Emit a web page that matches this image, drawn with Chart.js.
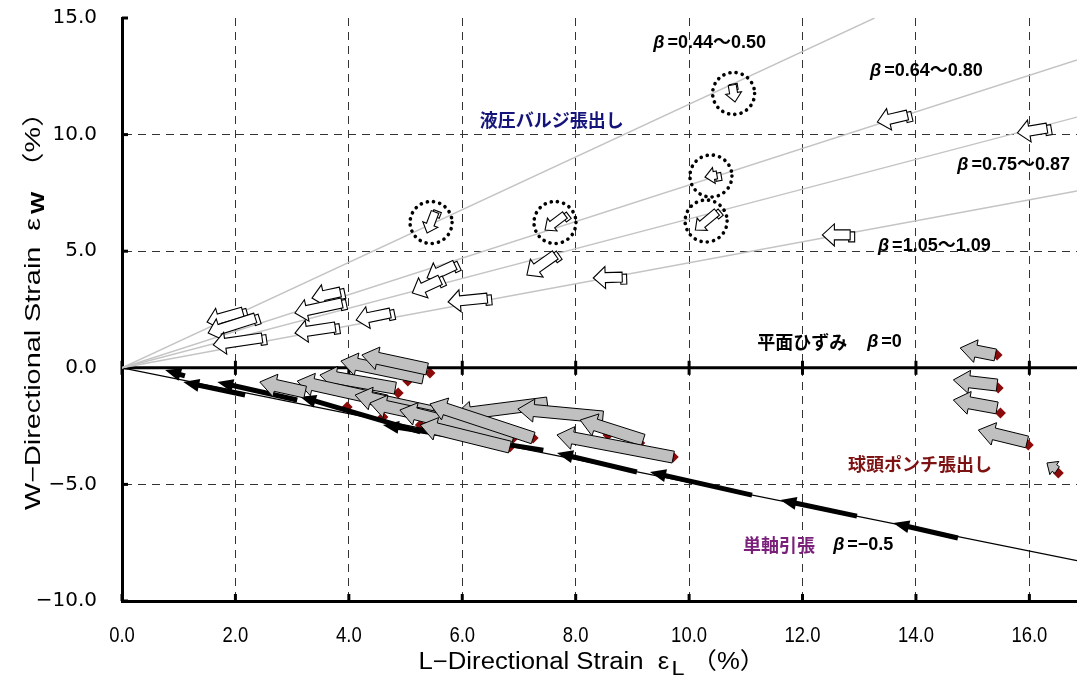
<!DOCTYPE html>
<html>
<head>
<meta charset="utf-8">
<script src="https://cdn.jsdelivr.net/npm/chart.js@4/dist/chart.umd.min.js"></script>
<style>
  html, body { margin: 0; padding: 0; background: #fff; }
  #wrap { width: 1077px; height: 679px; }
  canvas { display: block; }
</style>
</head>
<body>
<div id="wrap"><canvas id="c" width="1077" height="679"></canvas></div>
<script>
// ---------------- values (strain in %) ----------------
const xTickValues = [0, 2, 4, 6, 8, 10, 12, 14, 16];
const xTickLabels = ['0.0', '2.0', '4.0', '6.0', '8.0', '10.0', '12.0', '14.0', '16.0'];
const yTickValues = [-10, -5, 0, 5, 10, 15];
const yTickLabels = ['\u221210.0', '\u22125.0', '0.0', '5.0', '10.0', '15.0'];

// strain-path guide lines from the origin, [εL, εW]
const guideA = [[0, 0], [13.27, 15.0]];
const guideB = [[0, 0], [16.84, 13.2]];
const guideC = [[0, 0], [16.84, 10.75]];
const guideD = [[0, 0], [16.84, 7.58]];
const uniaxialLine = [[0, 0], [16.84, -8.27]];
const planeLine = [[0, 0], [16.84, 0]];

// hydraulic bulge: strain increments, [εL tail, εW tail, εL head, εW head]
const bulgeArrows = [
  [2.13, 2.39, 1.50, 1.96],
  [2.35, 2.14, 1.52, 1.49],
  [2.47, 1.28, 1.61, 0.98],
  [3.85, 3.25, 3.35, 2.99],
  [3.88, 2.78, 3.05, 2.35],
  [3.76, 1.75, 3.05, 1.49],
  [4.73, 2.35, 4.13, 2.05],
  [5.87, 4.41, 5.38, 3.85],
  [5.61, 3.77, 5.12, 3.21],
  [6.44, 2.99, 5.75, 2.82],
  [7.64, 4.84, 7.14, 3.98],
  [8.82, 3.89, 8.31, 3.85],
  [13.85, 10.84, 13.32, 10.54],
  [16.31, 10.28, 15.79, 10.07],
  [12.84, 5.70, 12.35, 5.70]
];
// bulge increments marked with a dotted ring
const bulgeArrowsRinged = [
  [5.52, 6.68, 5.38, 5.78],
  [7.81, 6.55, 7.46, 5.91],
  [10.49, 6.68, 10.11, 5.91],
  [10.49, 8.27, 10.28, 8.18],
  [10.76, 12.13, 10.81, 11.40]
];

// ball-head punch stretching: strain increments
const punchArrows = [
  [5.31, -0.44, 3.86, 0.29],
  [5.38, -0.05, 4.23, 0.55],
  [4.82, -0.87, 3.49, -0.31],
  [4.66, -1.42, 3.09, -0.57],
  [3.23, -1.04, 2.43, -0.61],
  [5.49, -1.90, 4.11, -1.17],
  [6.14, -2.45, 4.37, -1.51],
  [7.50, -1.51, 5.87, -2.02],
  [6.90, -3.01, 4.90, -1.81],
  [7.25, -3.01, 5.43, -1.55],
  [6.84, -3.40, 5.26, -2.45],
  [8.48, -2.11, 6.98, -1.77],
  [9.19, -3.10, 8.08, -2.24],
  [9.72, -3.83, 7.67, -2.88],
  [15.40, 0.55, 14.78, 0.85],
  [15.43, -0.74, 14.66, -0.52],
  [15.43, -1.72, 14.66, -1.38],
  [15.96, -3.18, 15.10, -2.67],
  [16.49, -4.38, 16.31, -4.08]
];
// ball-head punch stretching: measured end strains
const punchPointsL = [5.43, 5.04, 4.87, 4.73, 5.26, 6.90, 7.25, 6.84, 8.57, 9.13, 9.72, 3.97, 4.60, 15.43, 15.45, 15.49, 15.98, 16.51];
const punchPointsW = [-0.22, -0.57, -1.08, -1.60, -2.45, -3.01, -3.01, -3.40, -2.88, -3.23, -3.83, -1.68, -2.11, 0.55, -0.87, -1.94, -3.31, -4.51];

// uniaxial tension: strain increments
const tensionArrows = [
  [1.11, -0.35, 0.76, -0.09],
  [2.17, -1.17, 1.08, -0.61],
  [3.09, -1.38, 1.68, -0.61],
  [5.26, -2.75, 3.14, -1.24],
  [7.43, -3.53, 4.60, -2.45],
  [9.08, -4.47, 7.67, -3.65],
  [11.11, -5.46, 9.31, -4.47],
  [12.96, -6.36, 11.61, -5.67],
  [14.74, -7.30, 13.60, -6.66]
];

// ---------------- text ----------------
const betaRanges = ['0.44\uFF5E0.50', '0.64\uFF5E0.80', '0.75\uFF5E0.87', '1.05\uFF5E1.09'];
const regionNames = { bulge: '液圧バルジ張出し', punch: '球頭ポンチ張出し', tension: '単軸引張', plane: '平面ひずみ' };
const tensionBeta = '\u22120.5';
const planeBeta = '0';
const xTitle = ['L\u2212Directional Strain  \u03B5', 'L', '\uFF08%\uFF09'];
const yTitle = ['W\u2212Directional Strain  \u03B5', 'W', '\uFF08%\uFF09'];

// label anchors in axis units (left edge, vertical middle)
const labelAt = {
  betaRanges: [[9.37, 13.93], [13.19, 12.73], [14.73, 8.70], [13.33, 5.22]],
  bulge: [6.31, 10.63],
  punch: [12.80, -4.14],
  tension: [10.95, -7.60],
  tensionBeta: [12.54, -7.60],
  plane: [11.20, 1.11],
  planeBeta: [13.14, 1.11]
};

const toPts = a => a.map(([x, y]) => ({ x, y }));

// ---------------- drawing helpers ----------------
function arrowPath(ctx, tx, ty, hx, hy, w, hw, hl) {
  const dx = hx - tx, dy = hy - ty;
  const L = Math.hypot(dx, dy) || 1;
  const ux = dx / L, uy = dy / L, nx = -uy, ny = ux;
  const h = Math.min(hl, L * 0.85);
  const bx = hx - ux * h, by = hy - uy * h;
  ctx.beginPath();
  ctx.moveTo(tx + nx * w / 2, ty + ny * w / 2);
  ctx.lineTo(bx + nx * w / 2, by + ny * w / 2);
  ctx.lineTo(bx + nx * hw / 2, by + ny * hw / 2);
  ctx.lineTo(hx, hy);
  ctx.lineTo(bx - nx * hw / 2, by - ny * hw / 2);
  ctx.lineTo(bx - nx * w / 2, by - ny * w / 2);
  ctx.lineTo(tx - nx * w / 2, ty - ny * w / 2);
  ctx.closePath();
}

function tailBox(ctx, tx, ty, hx, hy, w) {
  const dx = hx - tx, dy = hy - ty;
  const L = Math.hypot(dx, dy) || 1;
  const ux = dx / L, uy = dy / L, nx = -uy, ny = ux;
  const ox = 1.5, oy = 2;
  const p = [
    [tx + nx * w / 2 + ux * 3, ty + ny * w / 2 + uy * 3],
    [tx + nx * w / 2 - ux * 3, ty + ny * w / 2 - uy * 3],
    [tx - nx * w / 2 - ux * 3, ty - ny * w / 2 - uy * 3],
    [tx - nx * w / 2 + ux * 3, ty - ny * w / 2 + uy * 3]
  ];
  ctx.beginPath();
  p.forEach(([x, y], i) => i ? ctx.lineTo(x + ox, y + oy) : ctx.moveTo(x + ox, y + oy));
  ctx.closePath();
  ctx.fill();
  ctx.stroke();
}

function drawRuns(ctx, x, y, runs) {
  ctx.textBaseline = 'middle';
  ctx.textAlign = 'left';
  for (const r of runs) {
    ctx.font = r.font;
    ctx.fillStyle = r.color || '#000';
    ctx.fillText(r.text, x, y + (r.dy || 0));
    x += ctx.measureText(r.text).width + (r.gap || 0);
  }
  return x;
}
function runsWidth(ctx, runs) {
  let w = 0;
  for (const r of runs) { ctx.font = r.font; w += ctx.measureText(r.text).width + (r.gap || 0); }
  return w;
}
// text runs squeezed/stretched along the writing direction to a given length
function drawFitted(ctx, cx, cy, runs, length, angle) {
  const w = runsWidth(ctx, runs);
  ctx.save();
  ctx.translate(cx, cy);
  ctx.rotate(angle || 0);
  ctx.scale(length / w, 1);
  drawRuns(ctx, -w / 2, 0, runs);
  ctx.restore();
}

const SANS = '"Liberation Sans", Arial, "Noto Sans CJK JP", sans-serif';
const LATIN_B = 'bold 18px ' + SANS;
const BETA_F = 'italic bold 18px "Liberation Sans", Arial, sans-serif';
const JP_B = 'bold 18px "Noto Sans CJK JP", sans-serif';

const markupPlugin = {
  id: 'markup',
  beforeDatasetsDraw(chart) {
    const { ctx, chartArea: a, scales: { x, y } } = chart;
    const y0 = y.getPixelForValue(0);
    ctx.save();
    ctx.strokeStyle = '#000';
    ctx.lineWidth = 3;
    ctx.lineCap = 'butt';
    xTickValues.forEach(v => {
      const px = x.getPixelForValue(v);
      ctx.beginPath(); ctx.moveTo(px, y0 - 7); ctx.lineTo(px, y0 + 7); ctx.stroke();
      ctx.beginPath(); ctx.moveTo(px, a.bottom); ctx.lineTo(px, a.bottom - 7); ctx.stroke();
    });
    yTickValues.forEach(v => {
      const py = y.getPixelForValue(v);
      ctx.beginPath(); ctx.moveTo(a.left, py); ctx.lineTo(a.left + 6, py); ctx.stroke();
    });
    ctx.restore();
  },
  afterDatasetsDraw(chart) {
    const { ctx, chartArea: a, scales: { x, y } } = chart;
    const P = (vx, vy) => [x.getPixelForValue(vx), y.getPixelForValue(vy)];
    ctx.save();
    ctx.beginPath();
    ctx.rect(a.left, a.top - 2, a.right - a.left + 2, a.bottom - a.top + 2);
    ctx.clip();
    ctx.lineJoin = 'miter';

    // uniaxial tension arrows
    ctx.fillStyle = '#000';
    tensionArrows.forEach(([xt, yt, xh, yh]) => {
      const [tx, ty] = P(xt, yt), [hx, hy] = P(xh, yh);
      arrowPath(ctx, tx, ty, hx, hy, 5, 13, 16);
      ctx.fill();
    });

    // ball-head punch arrows
    ctx.fillStyle = '#c0c0c0';
    ctx.strokeStyle = '#000';
    ctx.lineWidth = 1;
    punchArrows.forEach(([xt, yt, xh, yh]) => {
      const [tx, ty] = P(xt, yt), [hx, hy] = P(xh, yh);
      const len = Math.hypot(hx - tx, hy - ty);
      if (len < 20) arrowPath(ctx, tx, ty, hx, hy, 8, 16, 9);
      else arrowPath(ctx, tx, ty, hx, hy, 12, 23, 16);
      ctx.fill();
      ctx.stroke();
    });

    // hydraulic bulge arrows
    ctx.fillStyle = '#fff';
    ctx.lineWidth = 1.1;
    bulgeArrows.forEach(([xt, yt, xh, yh]) => {
      const [tx, ty] = P(xt, yt), [hx, hy] = P(xh, yh);
      tailBox(ctx, tx, ty, hx, hy, 10);
      arrowPath(ctx, tx, ty, hx, hy, 10, 22, 12);
      ctx.fill();
      ctx.stroke();
    });
    bulgeArrowsRinged.forEach(([xt, yt, xh, yh]) => {
      const [tx, ty] = P(xt, yt), [hx, hy] = P(xh, yh);
      const len = Math.hypot(hx - tx, hy - ty);
      const w = len < 10 ? 5 : 8, hw = len < 10 ? 11 : 16, hl = len < 10 ? 6 : 9;
      tailBox(ctx, tx, ty, hx, hy, w);
      arrowPath(ctx, tx, ty, hx, hy, w, hw, hl);
      ctx.fill();
      ctx.stroke();
      // dotted ring around the increment
      ctx.save();
      ctx.setLineDash([0.1, 6.2]);
      ctx.lineCap = 'round';
      ctx.lineWidth = 3.6;
      ctx.beginPath();
      ctx.arc((tx + hx) / 2, (ty + hy) / 2, 21, 0, Math.PI * 2);
      ctx.stroke();
      ctx.restore();
    });
    ctx.restore();

    // annotations
    ctx.save();
    betaRanges.forEach((t, i) => {
      const [px, py] = P(...labelAt.betaRanges[i]);
      drawRuns(ctx, px, py, [
        { text: '\u03B2', font: BETA_F, gap: 3 },
        { text: '=' + t, font: LATIN_B }
      ]);
    });
    let [px, py] = P(...labelAt.bulge);
    drawRuns(ctx, px, py, [{ text: regionNames.bulge, font: JP_B, color: '#14147a' }]);
    [px, py] = P(...labelAt.punch);
    drawRuns(ctx, px, py, [{ text: regionNames.punch, font: JP_B, color: '#7d1212' }]);
    [px, py] = P(...labelAt.tension);
    drawRuns(ctx, px, py, [{ text: regionNames.tension, font: JP_B, color: '#7a1f7a' }]);
    [px, py] = P(...labelAt.tensionBeta);
    drawRuns(ctx, px, py, [
      { text: '\u03B2', font: BETA_F, gap: 3 },
      { text: '=' + tensionBeta, font: LATIN_B }
    ]);
    [px, py] = P(...labelAt.plane);
    drawRuns(ctx, px, py, [{ text: regionNames.plane, font: JP_B, color: '#000' }]);
    [px, py] = P(...labelAt.planeBeta);
    drawRuns(ctx, px, py, [
      { text: '\u03B2', font: BETA_F, gap: 3 },
      { text: '=' + planeBeta, font: LATIN_B }
    ]);
    ctx.restore();
  },
  afterDraw(chart) {
    const { ctx, scales: { x } } = chart;
    ctx.save();
    ctx.fillStyle = '#000';
    // horizontal tick labels, narrow face
    xTickValues.forEach((v, i) => {
      ctx.font = '22px ' + SANS;
      const w = ctx.measureText(xTickLabels[i]).width;
      drawFitted(ctx, x.getPixelForValue(v), 636,
        [{ text: xTickLabels[i], font: '22px ' + SANS }], 0.84 * w, 0);
    });
    // horizontal axis title
    drawFitted(ctx, 592, 663, [
      { text: xTitle[0], font: '23px ' + SANS, gap: 2 },
      { text: xTitle[1], font: '21px ' + SANS, dy: 6, gap: 6 },
      { text: xTitle[2], font: '23px ' + SANS }
    ], 347, 0);
    // vertical axis title
    drawFitted(ctx, 34, 304, [
      { text: yTitle[0], font: '22px ' + SANS, gap: 3 },
      { text: yTitle[1], font: 'bold 18px ' + SANS, dy: 5, gap: 8 },
      { text: yTitle[2], font: '22px ' + SANS }
    ], 412, -Math.PI / 2);
    ctx.restore();
  }
};

const lineSet = (pts, color, width) => ({
  type: 'line', data: toPts(pts), borderColor: color, borderWidth: width,
  pointRadius: 0, fill: false, tension: 0
});

// fixed axis boxes so the plot area sits at 122..1077 x 18..601
const fixBox = (w, h) => s => {
  if (w) s.width = w;
  if (h) s.height = h;
  s.paddingTop = 0; s.paddingBottom = 0; s.paddingLeft = 0; s.paddingRight = 0;
};

new Chart(document.getElementById('c'), {
  type: 'scatter',
  data: {
    datasets: [
      lineSet(guideA, '#c4c4c4', 1.4),
      lineSet(guideB, '#c4c4c4', 1.4),
      lineSet(guideC, '#c4c4c4', 1.4),
      lineSet(guideD, '#c4c4c4', 1.4),
      lineSet(uniaxialLine, '#000', 1.2),
      lineSet(planeLine, '#000', 3),
      {
        type: 'scatter',
        data: punchPointsL.map((v, i) => ({ x: v, y: punchPointsW[i] })),
        pointStyle: 'rectRot', pointRadius: 5.5,
        backgroundColor: '#8b0a0a', borderWidth: 0
      }
    ]
  },
  options: {
    responsive: false,
    devicePixelRatio: 1,
    animation: false,
    events: [],
    layout: { autoPadding: false, padding: { top: 18, right: 0, bottom: 0, left: 0 } },
    plugins: { legend: { display: false }, tooltip: { enabled: false } },
    scales: {
      x: {
        type: 'linear', min: 0, max: 16.84,
        afterFit: fixBox(0, 78),
        afterBuildTicks: s => { s.ticks = xTickValues.map(v => ({ value: v })); },
        ticks: { display: false, includeBounds: false },
        grid: {
          color: c => (c.tick && c.tick.value === 0) ? 'rgba(0,0,0,0)' : '#333',
          lineWidth: 1, drawTicks: false
        },
        border: { display: true, color: '#000', width: 3, dash: [8, 6] }
      },
      y: {
        type: 'linear', min: -10, max: 15,
        afterFit: fixBox(122, 0),
        afterBuildTicks: s => { s.ticks = yTickValues.map(v => ({ value: v })); },
        ticks: {
          callback: v => yTickLabels[yTickValues.indexOf(v)] ?? '',
          font: { family: '"DejaVu Sans", sans-serif', size: 20 }, color: '#000', padding: 25,
          autoSkip: false, includeBounds: false
        },
        grid: {
          color: c => (c.tick && [0, -10, 15].includes(c.tick.value)) ? 'rgba(0,0,0,0)' : '#333',
          lineWidth: 1, drawTicks: false
        },
        border: { display: true, color: '#000', width: 3, dash: [8, 6] }
      }
    }
  },
  plugins: [markupPlugin]
});
</script>
</body>
</html>
